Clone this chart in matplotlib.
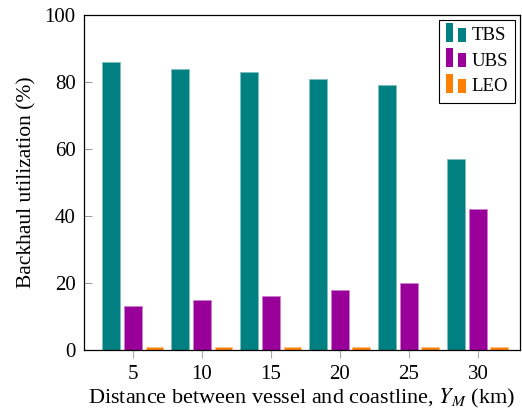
import matplotlib
matplotlib.use('Agg')
import matplotlib.pyplot as plt
from matplotlib.patches import Rectangle
from matplotlib.legend_handler import HandlerBase
import numpy as np

plt.rcParams.update({'font.family': 'Liberation Serif', 'mathtext.fontset': 'stix'})

# data
distances = [5, 10, 15, 20, 25, 30]
tbs = [86, 84, 83, 81, 79, 57]
ubs = [13, 15, 16, 18, 20, 42]
leo = [1, 1, 1, 1, 1, 1]

series = [('TBS', tbs, '#008080', '#7fbfbf'),
          ('UBS', ubs, '#990099', '#cc7fcc'),
          ('LEO', leo, '#ff8000', '#ffbf7f')]


class TwoBars(HandlerBase):
    # pgfplots style legend image: two small bars
    def create_artists(self, legend, orig_handle, xdescent, ydescent,
                       width, height, fontsize, trans):
        fc = orig_handle.get_facecolor()
        bw = width * 0.37
        arts = []
        for x0, h in [(0, height * 1.45), (width * 0.63, height * 1.05)]:
            r = Rectangle((x0 - xdescent, -ydescent - height * 0.1), bw, h,
                          facecolor=fc, edgecolor='none', transform=trans)
            arts.append(r)
        return arts


fig = plt.figure(figsize=(5.22, 4.19), dpi=100)
ax = fig.add_axes([84 / 522, 1 - 350 / 419, 436 / 522, 335 / 419])

x = np.array(distances, dtype=float)
offset = 1.56
width = 1.3
handles = []
for i, (name, vals, fc, ec) in enumerate(series):
    b = ax.bar(x + (i - 1) * offset, vals, width, color=fc, edgecolor=ec,
               linewidth=0.6, label=name, zorder=2)
    handles.append(b[0])

ax.set_xlim(1.45, 33.05)
ax.set_ylim(0, 100)
ax.set_xticks(distances)
ax.set_yticks([0, 20, 40, 60, 80, 100])
ax.tick_params(axis='y', direction='in', length=6, width=0.6, color='#888888',
               labelsize=15, pad=6)
ax.tick_params(axis='x', direction='out', length=6, width=0.8, color='#aaaaaa',
               labelsize=15, pad=5)
for s in ax.spines.values():
    s.set_linewidth(0.9)

ax.set_xlabel(r'Distance between vessel and coastline, $Y_M$ (km)', fontsize=16, labelpad=2)
ax.set_ylabel('Backhaul utilization (%)', fontsize=15.5, labelpad=6)

leg = ax.legend(handles, [s[0] for s in series], loc='upper right',
                handler_map={h: TwoBars() for h in handles},
                fontsize=13.5, fancybox=False, edgecolor='black', framealpha=1,
                borderaxespad=0.25, handlelength=1.05, handletextpad=0.3,
                labelspacing=0.45, borderpad=0.4)
leg.get_frame().set_linewidth(0.8)

fig.savefig('out.png', dpi=100)
